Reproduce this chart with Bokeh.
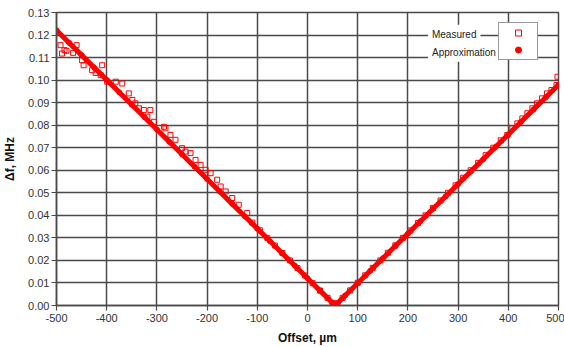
from bokeh.plotting import figure
from bokeh.models import (Range1d, FixedTicker, NumeralTickFormatter, PrintfTickFormatter,
                          Legend, LegendItem, Label, ColumnDataSource)
from bokeh.embed import file_html
from bokeh.resources import INLINE

# ---- data ----
approx_x = [-500, -475, -450, -425, -400, -375, -350, -325, -300, -275, -250, -225, -200,
            -175, -150, -125, -100, -75, -50, -25, 0, 25, 50, 55, 75, 100, 125, 150, 175,
            200, 225, 250, 275, 300, 325, 350, 375, 400, 425, 450, 475, 500]
approx_y = [0.1221, 0.1166, 0.1111, 0.1056, 0.1001, 0.0946, 0.0891, 0.0836, 0.0781, 0.0726,
            0.0671, 0.0616, 0.0561, 0.0506, 0.0451, 0.0396, 0.0341, 0.0286, 0.0231, 0.0176,
            0.0121, 0.0066, 0.0011, 0.0000, 0.0044, 0.0099, 0.0154, 0.0209, 0.0264, 0.0319,
            0.0374, 0.0429, 0.0484, 0.0539, 0.0594, 0.0649, 0.0704, 0.0759, 0.0814, 0.0869,
            0.0924, 0.0979]

meas_x = [-492, -484, -489, -480, -467, -460, -449, -446, -429, -422, -412, -409, -399, -382,
          -369, -356, -349, -343, -336, -326, -313, -319, -306, -286,
          -283, -273, -263, -250, -243, -233, -223, -213, -203, -193, -180, -173, -163, -150,
          -137, -120,
          -110, -95, -80, -65, -50, -35, -20, -5, 10, 25, 40, 50, 60, 70, 85, 100, 115, 130,
          145, 160, 175, 190, 205, 220, 235, 250, 265, 280, 295, 310, 325, 340, 355, 370, 385,
          398, 408, 418, 428, 438, 448, 457, 467, 477, 486, 496, 498]
meas_y = [0.1155, 0.1133, 0.1118, 0.1130, 0.1121, 0.1155, 0.1088, 0.1066, 0.1044, 0.1032,
          0.1022, 0.1066, 0.0993, 0.0993, 0.0985, 0.0941, 0.0912, 0.0897, 0.0875, 0.0867,
          0.0867, 0.0838, 0.0815, 0.0793,
          0.0786, 0.0757, 0.0735, 0.0698, 0.0683, 0.0676, 0.0646, 0.0624, 0.0602, 0.0587,
          0.0558, 0.0528, 0.0506, 0.0477, 0.0447, 0.0410,
          0.0368, 0.0334, 0.0300, 0.0266, 0.0233, 0.0200, 0.0166, 0.0133, 0.0099, 0.0066,
          0.0034, 0.0012, 0.0010, 0.0034, 0.0067, 0.0101, 0.0134, 0.0167, 0.0200, 0.0234,
          0.0267, 0.0300, 0.0333, 0.0366, 0.0400, 0.0433, 0.0466, 0.0500, 0.0533, 0.0567,
          0.0600, 0.0633, 0.0667, 0.0700, 0.0733,
          0.0757, 0.0786, 0.0808, 0.0830, 0.0853, 0.0875, 0.0897, 0.0919, 0.0941, 0.0956,
          0.0978, 0.1015]

x_ticks = [-500, -400, -300, -200, -100, 0, 100, 200, 300, 400, 500]
y_ticks = [0.00, 0.01, 0.02, 0.03, 0.04, 0.05, 0.06, 0.07, 0.08, 0.09, 0.10, 0.11, 0.12, 0.13]

RED = "#ff0000"
GRID = "#4a4a4a"
FONT = "Liberation Sans"

p = figure(width=564, height=347, output_backend="svg", toolbar_location=None,
           x_range=Range1d(-500, 500), y_range=Range1d(0, 0.13),
           min_border_left=56, min_border_right=6, min_border_top=12, min_border_bottom=41)

p.background_fill_color = "white"
p.border_fill_color = "white"
p.outline_line_color = GRID
p.outline_line_width = 1.5

for g in (p.xgrid, p.ygrid):
    g.grid_line_color = GRID
    g.grid_line_width = 1.5
p.xgrid.ticker = FixedTicker(ticks=x_ticks)
p.ygrid.ticker = FixedTicker(ticks=y_ticks)

p.xaxis.ticker = FixedTicker(ticks=x_ticks)
p.yaxis.ticker = FixedTicker(ticks=y_ticks)
p.xaxis.formatter = PrintfTickFormatter(format="%d")
p.yaxis.formatter = NumeralTickFormatter(format="0.00")
for ax in (p.xaxis, p.yaxis):
    ax.axis_line_color = GRID
    ax.axis_line_width = 1.5
    ax.major_tick_line_color = GRID
    ax.major_tick_line_width = 1.2
    ax.major_tick_out = 5
    ax.major_tick_in = 0
    ax.minor_tick_line_color = None
    ax.major_label_text_font = FONT
    ax.major_label_text_font_size = "11px"
    ax.major_label_text_color = "#333333"
    ax.axis_label_text_font = FONT
    ax.axis_label_text_font_style = "bold"
    ax.axis_label_text_font_size = "12px"
    ax.axis_label_text_color = "#111111"
p.xaxis.major_label_standoff = 3
p.yaxis.major_label_standoff = 2
p.xaxis.axis_label = "Offset, µm"
p.yaxis.axis_label = "Δf, MHz"
p.xaxis.axis_label_standoff = 6
p.yaxis.axis_label_standoff = 8

src_m = ColumnDataSource(dict(x=meas_x, y=meas_y))
src_a = ColumnDataSource(dict(x=approx_x, y=approx_y))

r_meas = p.scatter("x", "y", source=src_m, marker="square", size=5, fill_color=None,
                   line_color=RED, line_width=1)
p.line("x", "y", source=src_a, line_color=RED, line_width=5)
r_appr = p.scatter("x", "y", source=src_a, marker="circle", size=5, fill_color=RED,
                   line_color=RED)

for txt, yy in (("Measured", 0.1204), ("Approximation", 0.1124)):
    p.add_layout(Label(x=240, y=yy, text=txt, text_font=FONT, text_font_size="10px",
                       text_color="#222222", text_baseline="middle", padding=4,
                       background_fill_color="white", background_fill_alpha=1.0))

legend = Legend(items=[LegendItem(label=" ", renderers=[r_meas]),
                       LegendItem(label=" ", renderers=[r_appr])],
                location=(442, 245), glyph_width=34, glyph_height=15, label_width=0,
                label_standoff=0, label_text_font_size="1px", padding=2, spacing=2,
                margin=0, border_line_color="#333333", border_line_width=1,
                background_fill_color="white", background_fill_alpha=1.0)
p.add_layout(legend, "center")

open("out.html", "w").write(file_html(p, INLINE))
